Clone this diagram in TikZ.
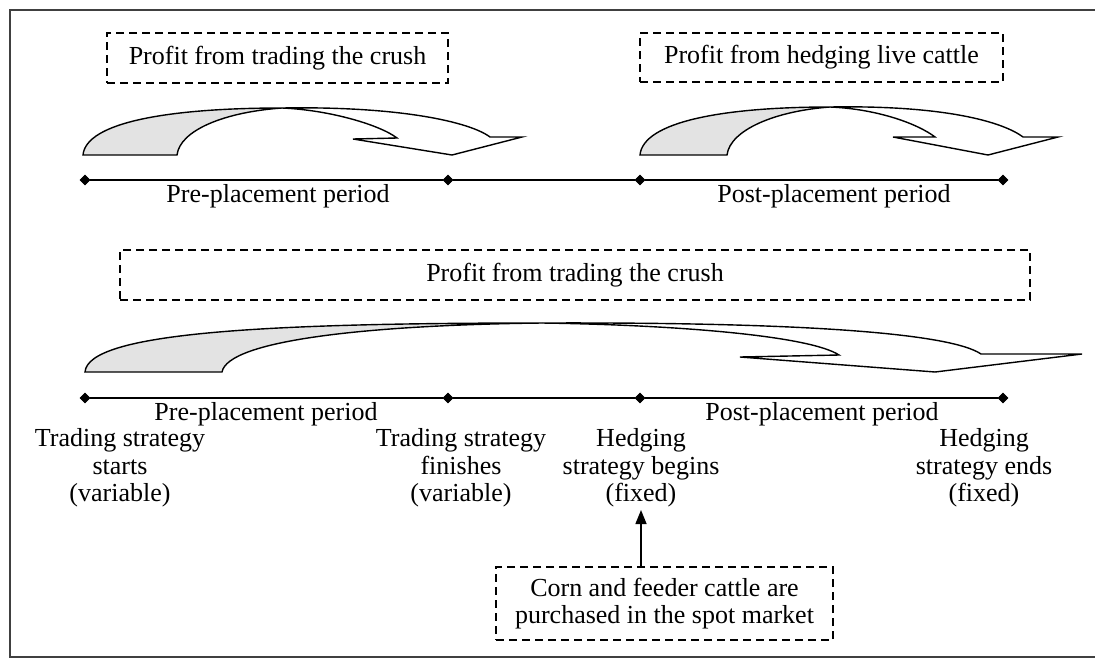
\documentclass[tikz,border=0pt]{standalone}
\usepackage{fontspec}
\setmainfont{Liberation Serif}
\usetikzlibrary{shapes.geometric,arrows.meta}
\begin{document}
\begin{tikzpicture}[x=0.5pt,y=-0.5pt,
    every node/.style={font=\fontsize{13}{13.75}\selectfont},
    dashbox/.style={draw,dash pattern=on 4pt off 2.5pt,line width=0.7pt,inner sep=0pt},
    timept/.style={draw,fill,shape=diamond,inner sep=0pt,minimum size=5pt},
    ribbon/.style={draw,line width=0.7pt,line join=miter}]
    \useasboundingbox (0,0) rectangle (1095,659);
    % outer frame
    \draw[line width=0.8pt,black!75] (1095,10) -- (10,10) -- (10,657) -- (1095,657);
    % boxes
    \node[dashbox,minimum width=170.5pt,minimum height=25pt] (crushA) at (277.5,58) {Profit from trading the crush};
    \node[dashbox,minimum width=181.5pt,minimum height=24.5pt] (cattle) at (821.5,57.5) {Profit from hedging live cattle};
    \node[dashbox,minimum width=455pt,minimum height=25pt] (crushB) at (575,275) {Profit from trading the crush};
    \node[dashbox,minimum width=168.5pt,minimum height=36.5pt,align=center] (corn) at (664.5,603.5) {Corn and feeder cattle are\\purchased in the spot market};
    % curved arrows, top row
    \filldraw[ribbon,fill=gray!22] (83,155) .. controls (86,122) and (170,108) .. (282,108)
        .. controls (225,112) and (180,130) .. (177,155) -- cycle;
    \draw[ribbon,fill=white] (282,108) .. controls (400,106) and (470,122) .. (490,137) -- (522,137)
        -- (452,155) -- (353,139) -- (397,138) .. controls (380,125) and (330,110) .. cycle;
    \filldraw[ribbon,fill=gray!22] (640,155) .. controls (643,122) and (722,107) .. (830,107)
        .. controls (775,111) and (730,130) .. (727,155) -- cycle;
    \draw[ribbon,fill=white] (830,107) .. controls (945,105) and (1003,122) .. (1023,137) -- (1058,137)
        -- (988,155) -- (893,137) -- (935,137) .. controls (918,124) and (878,109) .. cycle;
    % long arrow
    \filldraw[ribbon,fill=gray!22] (85,372) .. controls (88,333) and (260,323) .. (542,323)
        .. controls (370,325) and (228,340) .. (222,372) -- cycle;
    \draw[ribbon,fill=white] (542,323) .. controls (800,322) and (950,333) .. (981,354) -- (1082,354)
        -- (935,372) -- (740,357) -- (839,355) .. controls (810,336) and (680,325) .. cycle;
    % timelines
    \node[timept] (t1) at (85,180) {};
    \node[timept] (t2) at (448,180) {};
    \node[timept] (t3) at (640,180) {};
    \node[timept] (t4) at (1003,180) {};
    \draw[line width=0.75pt] (t1) -- (t2) -- (t3) -- (t4);
    \node[timept] (b1) at (85,398) {};
    \node[timept] (b2) at (448,398) {};
    \node[timept] (b3) at (640,398) {};
    \node[timept] (b4) at (1003,398) {};
    \draw[line width=0.75pt] (b1) -- (b2) -- (b3) -- (b4);
    \node (preA) at (278,196) {Pre-placement period};
    \node (postA) at (834,196) {Post-placement period};
    \node (preB) at (266,414) {Pre-placement period};
    \node (postB) at (822,414) {Post-placement period};
    % events
    \node[align=center] (ts) at (120,468) {Trading strategy\\starts\\(variable)};
    \node[align=center] (tf) at (461,468) {Trading strategy\\finishes\\(variable)};
    \node[align=center] (hb) at (641,468) {Hedging\\strategy begins\\(fixed)};
    \node[align=center] (he) at (984,468) {Hedging\\strategy ends\\(fixed)};
    \coordinate (fixtip) at (641,510);
    \draw[line width=0.75pt,-{Triangle[length=7pt,width=5.5pt]}] (corn.north -| fixtip) -- (fixtip);
\end{tikzpicture}
\end{document}
